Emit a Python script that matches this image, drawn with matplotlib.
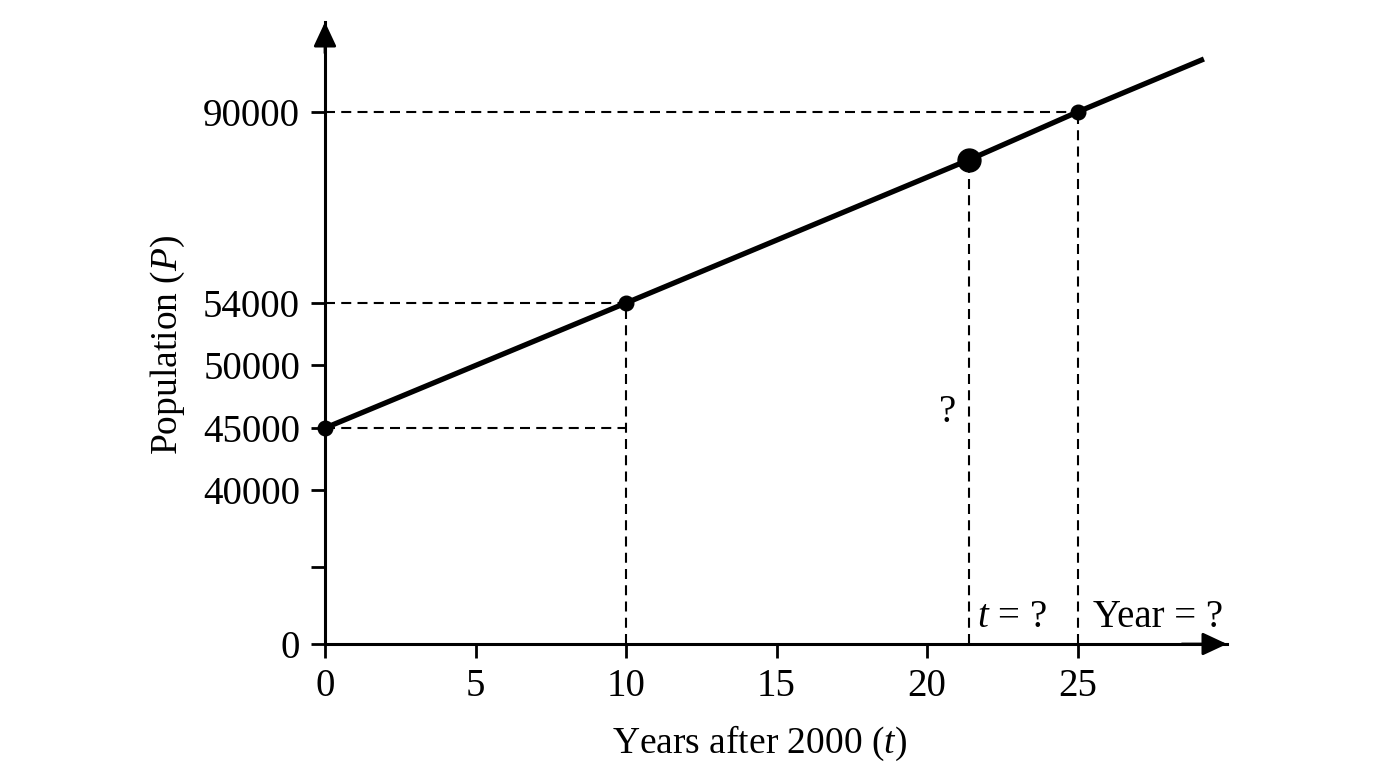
import numpy as np
import matplotlib.pyplot as plt

plt.rcParams['font.family'] = 'Liberation Serif'
plt.rcParams['mathtext.fontset'] = 'custom'
plt.rcParams['mathtext.rm'] = 'Liberation Serif'
plt.rcParams['mathtext.it'] = 'Liberation Serif:italic'

# line through the known points (t, P)
t_line = [0, 10, 21.4, 25, 29.2]
p_line = [45000, 54000, 81000, 90000, 100000]
t_known = [0, 10, 25]
p_known = [45000, 54000, 90000]
t_guess = 21.4
p_guess = 81000

x_ticks = [0, 5, 10, 15, 20, 25]
y_ticks = [0, 20000, 40000, 45000, 50000, 54000, 90000]
y_labels = ['0', '', '40000', '45000', '50000', '54000', '90000']

# schematic (broken) y axis: value -> drawing position
knot_vals = np.array([0, 40000, 45000, 50000, 54000, 90000, 120000])
knot_pos = np.array([0, 154, 216, 279, 341, 532, 691])


def fwd(v):
    return np.interp(v, knot_vals, knot_pos)


def inv(p):
    return np.interp(p, knot_pos, knot_vals)


fs = 28
fig = plt.figure(figsize=(13.76, 7.68), dpi=100)
ax = fig.add_axes([325 / 1376, 124 / 768, 902 / 1376, 622 / 768])
ax.set_yscale('function', functions=(fwd, inv))
ax.set_xlim(0, 902 / 30.1)
ax.set_ylim(0, inv(622))

dash = dict(color='k', lw=1.5, dashes=(4.8, 3.0), zorder=1)
ax.plot([0, 25], [90000, 90000], **dash)
ax.plot([0, 10], [54000, 54000], **dash)
ax.plot([0, 10], [45000, 45000], **dash)
ax.plot([10, 10], [0, 54000], **dash)
ax.plot([t_guess, t_guess], [0, p_guess], **dash)
ax.plot([25, 25], [0, 90000], **dash)

ax.plot(t_line, p_line, color='k', lw=3.8, zorder=3, solid_capstyle='butt')
ax.plot(t_known, p_known, 'o', color='k', ms=10.5, zorder=4, clip_on=False)
ax.plot([t_guess], [p_guess], 'o', color='k', ms=16.5, zorder=4)

ax.text(20.7, 46200, '?', fontsize=fs, ha='center', va='center')
ax.text(21.65, 7000, '$t$ = ?', fontsize=fs, ha='left', va='center')
ax.text(25.5, 7000, 'Year = ?', fontsize=fs, ha='left', va='center')

ax.spines['top'].set_visible(False)
ax.spines['right'].set_visible(False)
ax.spines['left'].set_linewidth(2.2)
ax.spines['bottom'].set_linewidth(2.2)

arrow = dict(arrowstyle='-|>,head_length=0.75,head_width=0.35', color='k',
             lw=2, mutation_scale=20, shrinkA=0, shrinkB=0)
ax.annotate('', xy=(1, 0), xytext=(0.95, 0), xycoords='axes fraction', arrowprops=arrow)
ax.annotate('', xy=(0, 1), xytext=(0, 0.95), xycoords='axes fraction', arrowprops=arrow)

ax.set_xticks(x_ticks)
ax.set_yticks(y_ticks)
ax.set_yticklabels(y_labels)
ax.minorticks_off()
ax.tick_params(labelsize=fs, length=10, width=2, direction='out')
ax.tick_params(axis='y', pad=8)
ax.tick_params(axis='x', pad=7)

ax.set_xlabel('Years after 2000 ($t$)', fontsize=27)
ax.set_ylabel('Population ($P$)', fontsize=27)
ax.xaxis.set_label_coords(435 / 902, -80 / 622)
ax.yaxis.set_label_coords(-138 / 902, 299 / 622)

fig.savefig('out.png', dpi=100)
